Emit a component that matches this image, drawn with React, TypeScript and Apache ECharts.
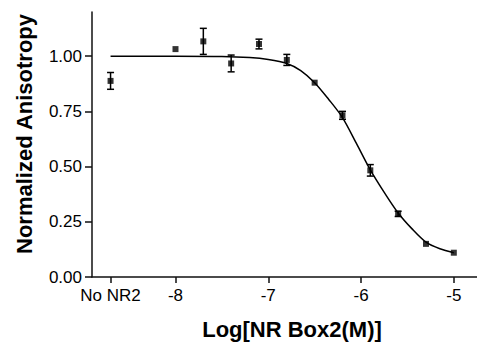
import React, { useEffect, useRef } from "react";
import * as echarts from "echarts";

// Log concentration positions (No NR2 control plotted at -8.7)
const concX = [-8.7, -8.0, -7.7, -7.4, -7.1, -6.8, -6.5, -6.2, -5.9, -5.6, -5.3, -5.0];
const meanY = [0.888, 1.032, 1.067, 0.967, 1.055, 0.983, 0.88, 0.732, 0.483, 0.286, 0.15, 0.11];
const errY = [0.038, 0, 0.059, 0.038, 0.022, 0.025, 0, 0.018, 0.026, 0.012, 0, 0];

// Fitted curve
const curveX = [-8.7, -8.0, -7.5, -7.2, -7.0, -6.8, -6.65, -6.5, -6.35, -6.2, -6.05, -5.9, -5.75, -5.6, -5.45, -5.3, -5.15, -5.0];
const curveY = [1.0, 1.0, 0.999, 0.994, 0.985, 0.967, 0.935, 0.88, 0.805, 0.722, 0.605, 0.485, 0.383, 0.29, 0.218, 0.158, 0.128, 0.11];

const xTicks = [-8.7, -8, -7, -6, -5];
const xTickLabels = ["No NR2", "-8", "-7", "-6", "-5"];
const yTicks = [0, 0.25, 0.5, 0.75, 1.0];

const FONT = "Liberation Sans, Arial, Helvetica, sans-serif";

export default function App() {
  const ref = useRef<HTMLDivElement>(null);
  useEffect(() => {
    if (!ref.current) return;
    const chart = echarts.init(ref.current, null, { renderer: "svg" });
    const points = concX.map((x, i) => [x, meanY[i], errY[i]]);
    const curve = curveX.map((x, i) => [x, curveY[i]]);
    chart.setOption({
      animation: false,
      backgroundColor: "#fff",
      grid: { left: 92, right: 0, top: 12, bottom: 65, containLabel: false },
      xAxis: {
        type: "value",
        min: -8.9,
        max: -4.75,
        axisLine: { show: true, onZero: false, lineStyle: { color: "#111", width: 1.5 } },
        axisTick: { show: true, length: 6, customValues: xTicks, lineStyle: { color: "#111", width: 1.5 } },
        axisLabel: {
          customValues: xTicks,
          margin: 10,
          fontSize: 17,
          fontFamily: FONT,
          color: "#000",
          formatter: (v: number) => {
            const i = xTicks.findIndex((t) => Math.abs(t - v) < 1e-6);
            return i >= 0 ? xTickLabels[i] : "";
          },
        },
        splitLine: { show: false },
      },
      yAxis: {
        type: "value",
        min: 0,
        max: 1.2,
        axisLine: { show: true, lineStyle: { color: "#111", width: 1.5 } },
        axisTick: { show: true, length: 7, customValues: yTicks, lineStyle: { color: "#111", width: 1.5 } },
        axisLabel: {
          customValues: yTicks,
          margin: 10,
          fontSize: 17,
          fontFamily: FONT,
          color: "#000",
          formatter: (v: number) => v.toFixed(2),
        },
        splitLine: { show: false },
      },
      graphic: [
        {
          type: "text",
          x: 292,
          y: 329,
          style: {
            text: "Log[NR Box2(M)]",
            font: `bold 22px ${FONT}`,
            fill: "#000",
            textAlign: "center",
            textVerticalAlign: "middle",
          },
        },
        {
          type: "text",
          x: 24,
          y: 134,
          rotation: Math.PI / 2,
          style: {
            text: "Normalized Anisotropy",
            font: `bold 22px ${FONT}`,
            fill: "#000",
            textAlign: "center",
            textVerticalAlign: "middle",
          },
        },
      ],
      series: [
        {
          type: "line",
          data: curve,
          smooth: 0.3,
          showSymbol: false,
          lineStyle: { color: "#000", width: 1.5 },
          z: 2,
        },
        {
          type: "custom",
          data: points,
          z: 3,
          renderItem: (params: any, api: any) => {
            const x = api.value(0);
            const y = api.value(1);
            const e = api.value(2);
            if (!e) return null;
            const top = api.coord([x, y + e]);
            const bot = api.coord([x, y - e]);
            const hw = 3.5;
            const style = { stroke: "#000", lineWidth: 1.5 };
            return {
              type: "group",
              children: [
                { type: "line", shape: { x1: top[0], y1: top[1], x2: bot[0], y2: bot[1] }, style },
                { type: "line", shape: { x1: top[0] - hw, y1: top[1], x2: top[0] + hw, y2: top[1] }, style },
                { type: "line", shape: { x1: bot[0] - hw, y1: bot[1], x2: bot[0] + hw, y2: bot[1] }, style },
              ],
            };
          },
        },
        {
          type: "scatter",
          data: points.map((p) => [p[0], p[1]]),
          symbol: "rect",
          symbolSize: 6,
          itemStyle: { color: "#000" },
          z: 4,
        },
      ],
    });
    return () => chart.dispose();
  }, []);
  return (
    <div
      ref={ref}
      style={{ position: "fixed", left: 0, top: 0, width: 477, height: 342, background: "#fff" }}
    />
  );
}
